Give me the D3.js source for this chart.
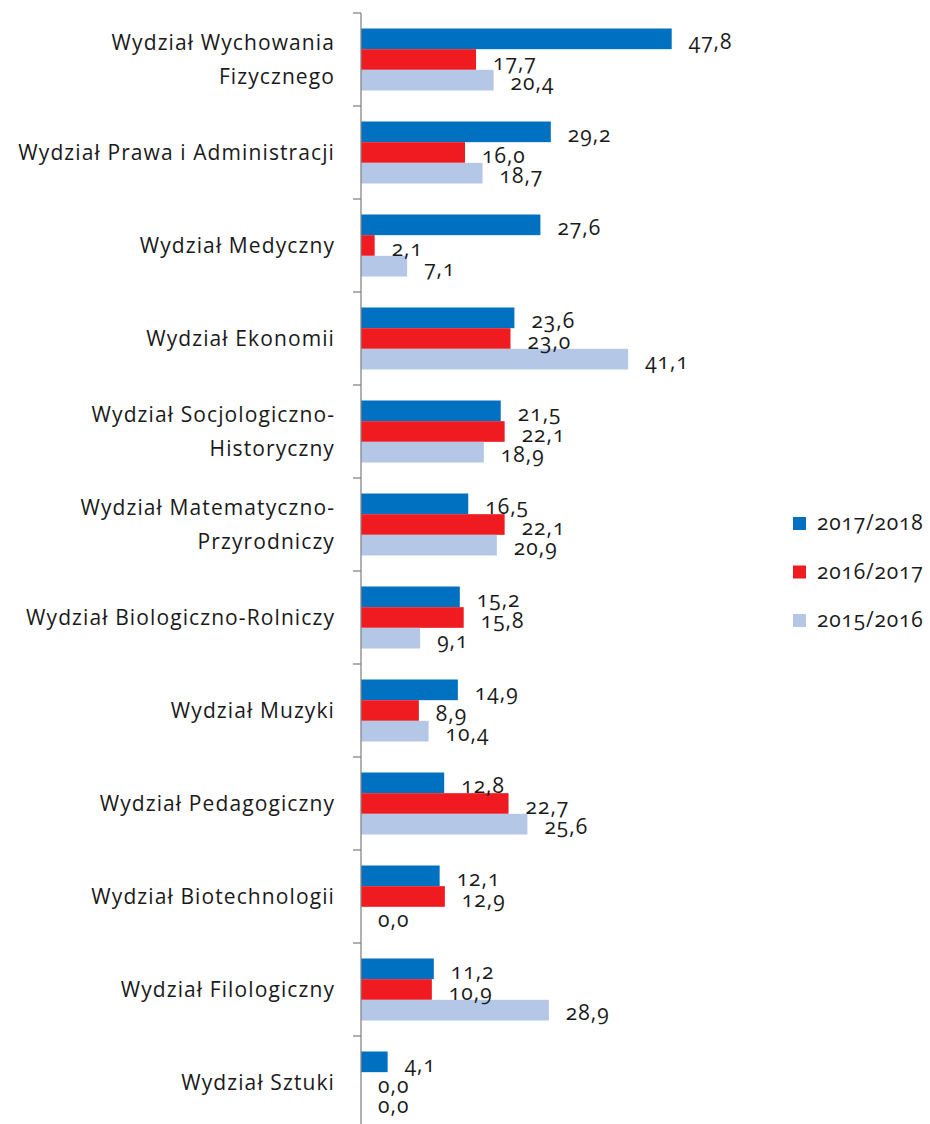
<!DOCTYPE html>
<html>
<head>
<meta charset="utf-8">
<script src="https://cdn.jsdelivr.net/npm/d3@7"></script>
<style>
  html, body { margin: 0; padding: 0; background: #fff; }
  svg { display: block; }
  text { font-family: "Open Sans", Lato, sans-serif; fill: #1a1a1a; font-variant-numeric: oldstyle-nums; }
</style>
</head>
<body>
<svg id="chart" width="930" height="1124"></svg>
<script>
const categories = [
  ["Wydział Wychowania", "Fizycznego"],
  ["Wydział Prawa i Administracji"],
  ["Wydział Medyczny"],
  ["Wydział Ekonomii"],
  ["Wydział Socjologiczno-", "Historyczny"],
  ["Wydział Matematyczno-", "Przyrodniczy"],
  ["Wydział Biologiczno-Rolniczy"],
  ["Wydział Muzyki"],
  ["Wydział Pedagogiczny"],
  ["Wydział Biotechnologii"],
  ["Wydział Filologiczny"],
  ["Wydział Sztuki"]
];
const seriesNames = ["2017/2018", "2016/2017", "2015/2016"];
const values2017_2018 = [47.8, 29.2, 27.6, 23.6, 21.5, 16.5, 15.2, 14.9, 12.8, 12.1, 11.2, 4.1];
const values2016_2017 = [17.7, 16.0, 2.1, 23.0, 22.1, 22.1, 15.8, 8.9, 22.7, 12.9, 10.9, 0.0];
const values2015_2016 = [20.4, 18.7, 7.1, 41.1, 18.9, 20.9, 9.1, 10.4, 25.6, 0.0, 28.9, 0.0];
const seriesColors = ["#0070C0", "#F01B20", "#B4C7E7"];

const seriesValues = [values2017_2018, values2016_2017, values2015_2016];
const catKeys = categories.map(c => c.join(" "));

const svg = d3.select("#chart");
const axisX = 361, plotTop = 13, step = 93;

const y = d3.scaleBand()
  .domain(catKeys)
  .range([plotTop, plotTop + step * categories.length])
  .paddingInner(1/3)
  .paddingOuter(1/6);

const ySub = d3.scaleBand()
  .domain(seriesNames)
  .range([0, y.bandwidth()]);

const x = d3.scaleLinear().domain([0, 50]).range([axisX, axisX + 325]);

const fmt = d3.formatLocale({decimal: ",", thousands: " ", grouping: [3], currency: ["", " zł"]}).format(".1f");

// bars
const groups = svg.append("g").selectAll("g")
  .data(catKeys)
  .join("g")
  .attr("transform", d => `translate(0,${y(d)})`);

groups.each(function(cat, i) {
  const g = d3.select(this);
  seriesNames.forEach((s, j) => {
    const v = seriesValues[j][i];
    g.append("rect")
      .attr("x", x(0))
      .attr("y", ySub(s))
      .attr("width", x(v) - x(0))
      .attr("height", ySub.bandwidth())
      .attr("fill", seriesColors[j]);
  });
});

// value labels
groups.each(function(cat, i) {
  const g = d3.select(this);
  seriesNames.forEach((s, j) => {
    const v = seriesValues[j][i];
    g.append("text")
      .attr("x", x(v) + 17)
      .attr("y", ySub(s) + ySub.bandwidth() / 2 + 10)
      .attr("font-size", 21)
      .attr("letter-spacing", 1)
      .text(fmt(v));
  });
});

// axis line + ticks
const yEdges = catKeys.map(k => y(k) - y.step() * y.paddingOuter());
const axis = svg.append("g");
axis.append("line")
  .attr("x1", axisX).attr("x2", axisX)
  .attr("y1", plotTop).attr("y2", plotTop + step * categories.length)
  .attr("stroke", "#868686").attr("stroke-width", 1.3);
axis.selectAll("line.tick")
  .data(yEdges.concat([plotTop + step * categories.length]))
  .join("line")
  .attr("class", "tick")
  .attr("x1", axisX - 8).attr("x2", axisX)
  .attr("y1", d => d).attr("y2", d => d)
  .attr("stroke", "#868686").attr("stroke-width", 1.3);

// category labels
const catLabels = svg.append("g");
categories.forEach((lines, i) => {
  const cy = y(catKeys[i]) + y.bandwidth() / 2;
  const t = catLabels.append("text")
    .attr("text-anchor", "end")
    .attr("font-size", 21)
    .attr("letter-spacing", 1.1);
  lines.forEach((ln, k) => {
    t.append("tspan")
      .attr("x", 335)
      .attr("y", cy + 7 + (k - (lines.length - 1) / 2) * 34)
      .text(ln);
  });
});

// legend
const legend = svg.append("g");
seriesNames.forEach((s, j) => {
  const ly = 530 + j * 48.5;
  legend.append("rect")
    .attr("x", 793).attr("y", ly - 13)
    .attr("width", 13).attr("height", 13)
    .attr("fill", seriesColors[j]);
  legend.append("text")
    .attr("x", 817).attr("y", ly)
    .attr("font-size", 21)
    .attr("letter-spacing", 0.8)
    .text(s);
});
</script>
</body>
</html>
